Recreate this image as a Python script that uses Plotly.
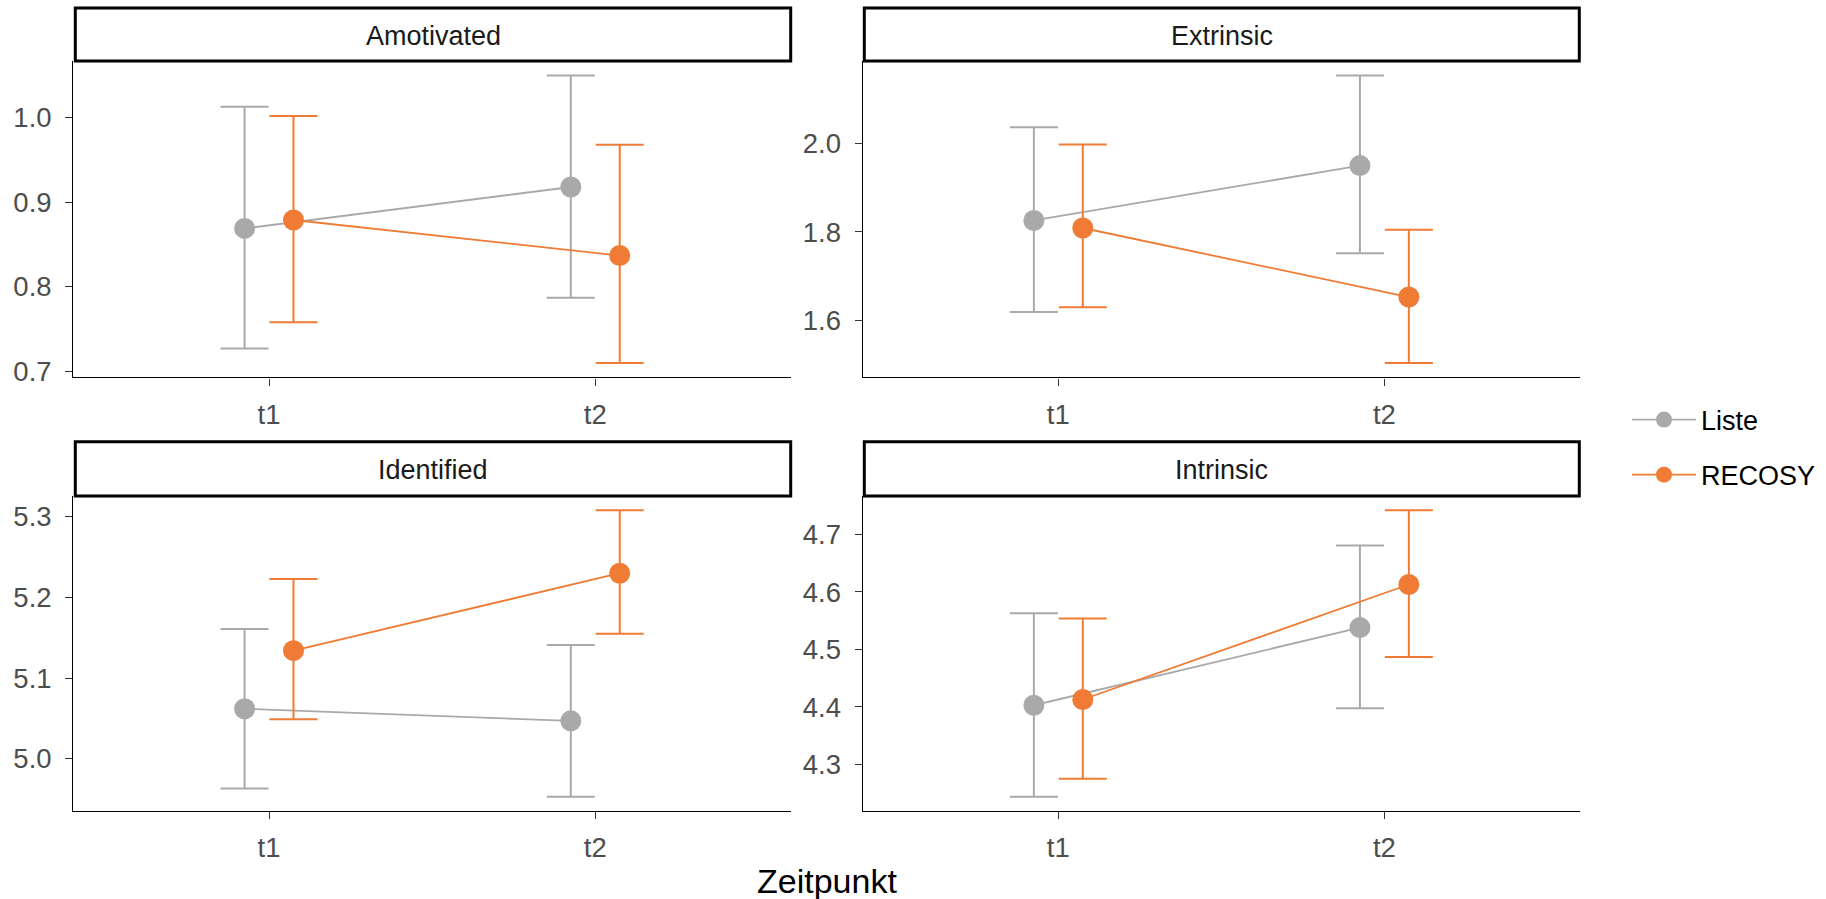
import plotly.graph_objects as go

# ---------------- data ----------------
timepoints = ["t1", "t2"]
facets = ["Amotivated", "Extrinsic", "Identified", "Intrinsic"]
groups = ["Liste", "RECOSY"]

liste_mean = {"Amotivated": [0.869, 0.918], "Extrinsic": [1.826, 1.950],
              "Identified": [5.062, 5.047], "Intrinsic": [4.403, 4.538]}
liste_low = {"Amotivated": [0.727, 0.787], "Extrinsic": [1.619, 1.752],
             "Identified": [4.963, 4.953], "Intrinsic": [4.244, 4.398]}
liste_high = {"Amotivated": [1.013, 1.050], "Extrinsic": [2.037, 2.154],
              "Identified": [5.161, 5.141], "Intrinsic": [4.563, 4.681]}

recosy_mean = {"Amotivated": [0.879, 0.837], "Extrinsic": [1.809, 1.653],
               "Identified": [5.134, 5.230], "Intrinsic": [4.413, 4.613]}
recosy_low = {"Amotivated": [0.758, 0.710], "Extrinsic": [1.630, 1.504],
              "Identified": [5.049, 5.155], "Intrinsic": [4.275, 4.487]}
recosy_high = {"Amotivated": [1.002, 0.968], "Extrinsic": [1.998, 1.805],
               "Identified": [5.223, 5.308], "Intrinsic": [4.554, 4.742]}

y_tick_step = {"Amotivated": 0.1, "Extrinsic": 0.2, "Identified": 0.1, "Intrinsic": 0.1}

# ---------------- style / layout ----------------
W, H = 1826, 899
FONT = "Liberation Sans, Arial, sans-serif"
colors = {"Liste": "#A9A9A9", "RECOSY": "#EF7B34"}
dodge = {"Liste": -0.075, "RECOSY": 0.075}
series = {"Liste": (liste_mean, liste_low, liste_high),
          "RECOSY": (recosy_mean, recosy_low, recosy_high)}

col_px = [(73.3, 791.0), (862.7, 1580.0)]
row_plot_px = [(61.0, 377.3), (496.0, 811.0)]
strip_x_px = [(75.3, 790.7), (864.3, 1579.3)]
strip_y_px = [(8.0, 61.0), (441.7, 496.0)]
strip_text_y_px = [35.6, 469.9]


def fx(v):
    return v / W


def fy(v):
    return 1 - v / H


fig = go.Figure()

for i, facet in enumerate(facets):
    n = "" if i == 0 else str(i + 1)
    for g in groups:
        m, lo, hi = (d[facet] for d in series[g])
        fig.add_trace(go.Scatter(
            x=[k + 1 + dodge[g] for k in range(len(timepoints))],
            y=m,
            mode="lines+markers",
            name=g,
            legendgroup=g,
            showlegend=(i == 0),
            line=dict(color=colors[g], width=1.8),
            marker=dict(color=colors[g], size=21),
            error_y=dict(type="data", symmetric=False,
                         array=[h - v for h, v in zip(hi, m)],
                         arrayminus=[v - l for v, l in zip(m, lo)],
                         color=colors[g], thickness=2, width=24),
            xaxis="x" + n, yaxis="y" + n,
        ))

axis_common = dict(showline=True, linecolor="black", linewidth=1.4,
                   ticks="outside", ticklen=7, tickwidth=1.4, tickcolor="#333333",
                   tickfont=dict(family=FONT, size=27.5, color="#4D4D4D"),
                   showgrid=False, zeroline=False, fixedrange=True)

shapes = []
annotations = []
layout_axes = {}
for i, facet in enumerate(facets):
    r, c = divmod(i, 2)
    n = "" if i == 0 else str(i + 1)
    lows = liste_low[facet] + recosy_low[facet]
    highs = liste_high[facet] + recosy_high[facet]
    span = max(highs) - min(lows)
    yr = [min(lows) - 0.05 * span, max(highs) + 0.05 * span]
    x0, x1 = col_px[c]
    t, b = row_plot_px[r]
    layout_axes["xaxis" + n] = dict(axis_common, domain=[fx(x0), fx(x1)],
                                    range=[0.4, 2.6], tickvals=[1, 2],
                                    ticktext=timepoints, anchor="y" + n,
                                    ticklabelstandoff=5)
    layout_axes["yaxis" + n] = dict(axis_common, domain=[fy(b), fy(t)],
                                    range=yr, dtick=y_tick_step[facet], tick0=0,
                                    tickformat=".1f", anchor="x" + n,
                                    ticklabelstandoff=8)
    sx0, sx1 = strip_x_px[c]
    sy0, sy1 = strip_y_px[r]
    shapes.append(dict(type="rect", xref="paper", yref="paper",
                       x0=fx(sx0), x1=fx(sx1), y0=fy(sy1), y1=fy(sy0),
                       line=dict(color="black", width=3), fillcolor="white"))
    annotations.append(dict(text=facet, xref="paper", yref="paper",
                            x=fx((sx0 + sx1) / 2), y=fy(strip_text_y_px[r]),
                            xanchor="center", yanchor="middle", showarrow=False,
                            font=dict(family=FONT, size=27, color="#1A1A1A")))

annotations.append(dict(text="Zeitpunkt", xref="paper", yref="paper",
                        x=fx((col_px[0][0] + col_px[1][1]) / 2), y=fy(880.9),
                        xanchor="center", yanchor="middle", showarrow=False,
                        font=dict(family=FONT, size=34, color="black")))

fig.update_layout(
    width=W, height=H,
    margin=dict(l=0, r=0, t=0, b=0, autoexpand=False),
    paper_bgcolor="white", plot_bgcolor="white",
    font=dict(family=FONT),
    showlegend=True,
    legend=dict(x=fx(1627), y=fy(447.5), xanchor="left", yanchor="middle",
                font=dict(family=FONT, size=27, color="black"),
                itemwidth=64,
                tracegroupgap=17, bgcolor="rgba(0,0,0,0)"),
    shapes=shapes,
    annotations=annotations,
    **layout_axes,
)

fig.write_html("out.html")
